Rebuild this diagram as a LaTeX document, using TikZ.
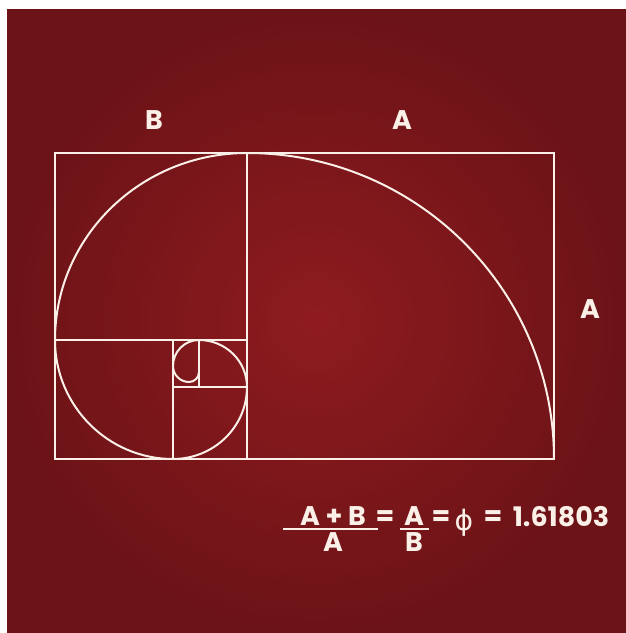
\documentclass[tikz,border=0pt]{standalone}
\usepackage{fontspec}
\setsansfont{Poppins}
\newfontfamily\phifont{DejaVu Sans}
\usetikzlibrary{positioning}
\definecolor{goldred}{RGB}{142,27,31}
\definecolor{goldedge}{RGB}{108,19,23}
\definecolor{chalk}{RGB}{250,240,232}

\begin{document}
\begin{tikzpicture}[x=0.3mm, y=0.3mm,
    frame/.style={draw=chalk, line width=1.7pt},
    spiral/.style={draw=chalk, line width=1.7pt},
    lbl/.style={text=chalk, inner sep=0pt, font=\sffamily\bfseries\fontsize{23}{26}\selectfont},
    fracline/.style={draw=chalk, line width=1.1pt},
]
\useasboundingbox (0,0) rectangle (626,633);
\fill[white] (0,0) rectangle (626,633);
\shade[inner color=goldred, outer color=goldedge] (7,0) rectangle (626,623);

% golden rectangle and its squares
\coordinate (sw) at (55,174);
\coordinate (ne) at (554,480);
\draw[frame] (sw) rectangle (ne);
\draw[frame] (247,174) -- (247,480);
\draw[frame] (55,293) -- (247,293);
\draw[frame] (173,174) -- (173,293);
\draw[frame] (173,246) -- (247,246);
\draw[frame] (199,246) -- (199,293);

% spiral
\draw[spiral] (554,174)
    arc[start angle=0, end angle=90, x radius=307, y radius=306]
    arc[start angle=90, end angle=180, x radius=192, y radius=187]
    arc[start angle=180, end angle=270, x radius=118, y radius=119]
    arc[start angle=270, end angle=360, x radius=74, y radius=72]
    arc[start angle=0, end angle=90, x radius=48, y radius=47]
    arc[start angle=90, end angle=180, radius=26]
    arc[start angle=180, end angle=270, radius=16]
    arc[start angle=270, end angle=360, radius=10];

% side labels
\node[lbl] (labB) at (154,513) {B};
\node[lbl] (labA) at (402,513) {A};
\node[lbl] (labAside) at (590,324) {A};

% formula
\node[lbl, anchor=base] (num1) at (333,107) {A + B};
\node[lbl, anchor=base] (den1) at (333,81) {A};
\draw[fracline] (283,104) -- (378,104);
\node[lbl] (eq1) at (385,115) {=};
\node[lbl, anchor=base] (num2) at (414,107) {A};
\node[lbl, anchor=base] (den2) at (414,81) {B};
\draw[fracline] (400,104) -- (429,104);
\node[lbl] (eq2) at (441,115) {=};
\node[text=chalk, inner sep=0pt, font=\phifont\fontsize{24}{26}\selectfont] (phi) at (464,110) {ϕ};
\node[lbl] (eq3) at (493,115) {=};
\node[lbl, anchor=base] (val) at (561,106) {1.61803};
\end{tikzpicture}
\end{document}
